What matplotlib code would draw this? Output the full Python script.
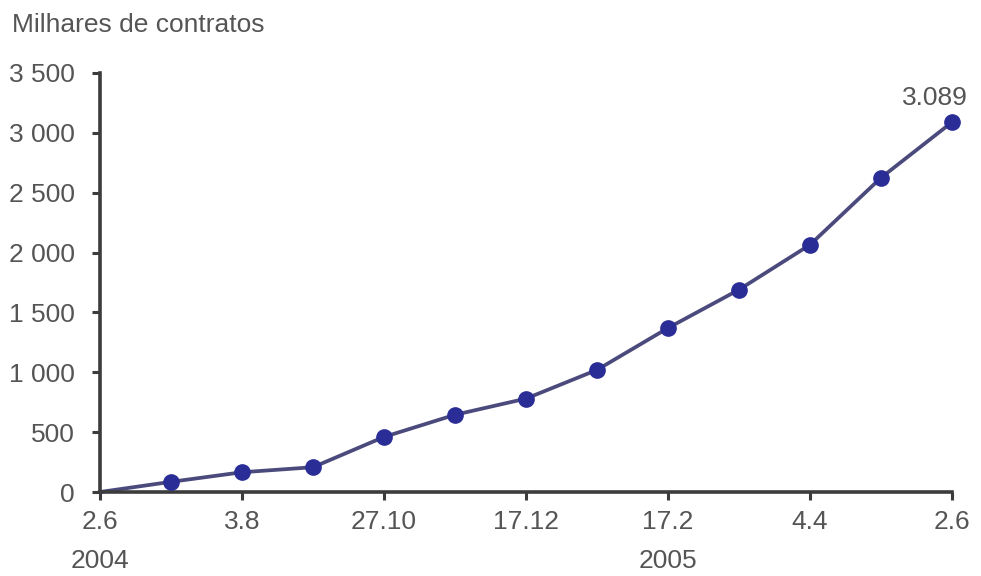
import numpy as np
from matplotlib import pyplot as plt
from matplotlib import transforms

# contratos (milhares), observations between 2.6.2004 and 2.6.2005
values = [0, 85, 165, 207, 460, 645, 780, 1020, 1370, 1690, 2065, 2625, 3089]
tick_labels = ["2.6", "3.8", "27.10", "17.12", "17.2", "4.4", "2.6"]
year_labels = {0: "2004", 8: "2005"}
y_ticks = [0, 500, 1000, 1500, 2000, 2500, 3000, 3500]

line_color = "#4b4a7c"
marker_color = "#2a2d96"
text_color = "#555555"
axis_color = "#3c3c3c"
fs = 19

plt.rcParams["font.family"] = ["Liberation Sans", "DejaVu Sans"]

fig = plt.figure(figsize=(9.81, 5.76), dpi=100)
ax = fig.add_axes([100 / 981, 1 - 492 / 576, 852 / 981, 419 / 576])

x = np.arange(len(values))
ax.plot(x, values, color=line_color, lw=2.7, zorder=2, clip_on=False)
ax.plot(x[1:], values[1:], "o", color=marker_color, ms=11, zorder=3,
        clip_on=False)

ax.annotate(f"{values[-1] / 1000:.3f}", (x[-1], values[-1]),
            xytext=(-12, 9), textcoords="offset points", ha="center",
            va="bottom", fontsize=fs, color=text_color)

ax.set_xlim(0, len(values) - 1)
ax.set_ylim(0, 3500)
ax.set_xticks(x[::2])
ax.set_xticklabels(tick_labels)
ax.set_yticks(y_ticks)
ax.set_yticklabels([f"{v:,}".replace(",", " ") for v in y_ticks])

trans = transforms.blended_transform_factory(ax.transData, ax.transAxes)
for i, yr in year_labels.items():
    ax.text(x[i], -0.194, yr, transform=trans, ha="center", va="bottom",
            fontsize=fs, color=text_color)

ax.text(-0.103, 1.085, "Milhares de contratos", transform=ax.transAxes,
        ha="left", va="bottom", fontsize=fs, color=text_color)

for side in ["top", "right"]:
    ax.spines[side].set_visible(False)
for side in ["left", "bottom"]:
    ax.spines[side].set_color(axis_color)
    ax.spines[side].set_linewidth(2.6)
ax.tick_params(colors=axis_color, width=2.2, length=6, labelsize=fs,
               labelcolor=text_color)
ax.tick_params(axis="x", pad=7)
ax.tick_params(axis="y", pad=12)

fig.savefig("out.png", dpi=100)
